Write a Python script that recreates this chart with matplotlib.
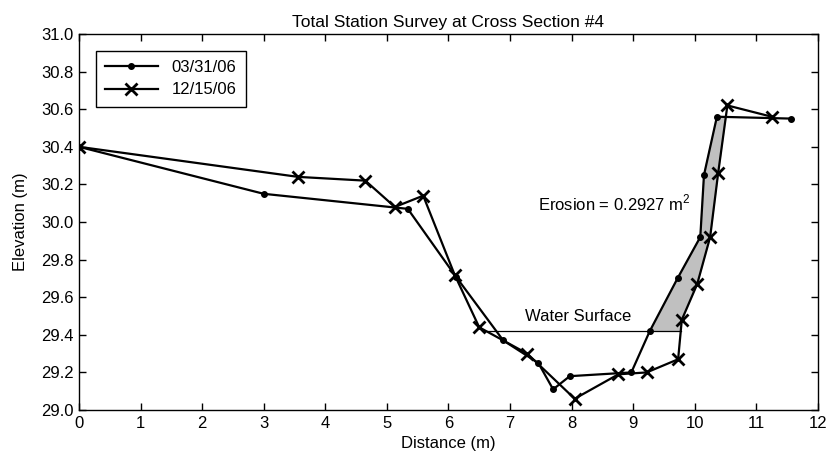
import numpy as np
import matplotlib
matplotlib.use("Agg")
import matplotlib.pyplot as plt

# survey 03/31/06 (dots)
x1 = [0.0, 3.0, 5.34, 6.12, 6.89, 7.46, 7.70, 7.97, 8.97, 9.27, 9.72, 10.09, 10.15, 10.36, 11.57]
y1 = [30.40, 30.15, 30.07, 29.71, 29.37, 29.25, 29.11, 29.18, 29.20, 29.42, 29.70, 29.92, 30.25, 30.56, 30.55]

# survey 12/15/06 (crosses)
x2 = [0.0, 3.56, 4.65, 5.13, 5.59, 6.10, 6.50, 7.28, 8.05, 8.76, 9.22, 9.73, 9.79, 10.04, 10.25, 10.38, 10.53, 11.25]
y2 = [30.40, 30.24, 30.22, 30.08, 30.14, 29.72, 29.44, 29.30, 29.06, 29.19, 29.20, 29.27, 29.48, 29.67, 29.92, 30.26, 30.62, 30.56]

water_level = 29.42
water_x = [6.6, 9.78]
erosion_label = "Erosion = 0.2927 m$^2$"


def cross_x(xa, ya, xb, yb, level):
    return xa + (level - ya) * (xb - xa) / (yb - ya)


plt.rcParams["font.family"] = ["Liberation Sans", "DejaVu Sans"]
plt.rcParams["font.size"] = 12
plt.rcParams["mathtext.fontset"] = "custom"
plt.rcParams["mathtext.rm"] = "Liberation Sans"

fig = plt.figure(figsize=(8.27, 4.57), dpi=100)
ax = fig.add_axes([0.0955, 0.1028, 0.8935, 0.8228])

# erosion polygon: bank of survey 1 from water level up to top, back down survey 2
i1a, i1b = 9, 13          # survey 1 points 9.27 .. 10.36
i2a, i2b = 12, 15         # survey 2 points 9.79 .. 10.38
top = y1[i1b]
xt = cross_x(x2[15], y2[15], x2[16], y2[16], top)
xb = cross_x(x2[11], y2[11], x2[12], y2[12], water_level)
px = x1[i1a:i1b + 1] + [xt] + x2[i2a:i2b + 1][::-1] + [xb]
py = y1[i1a:i1b + 1] + [top] + y2[i2a:i2b + 1][::-1] + [water_level]
ax.fill(px, py, color="#c0c0c0", zorder=1)

ax.plot(water_x, [water_level, water_level], color="black", lw=0.9, zorder=2)

ax.plot(x1, y1, color="black", lw=1.6, marker="o", ms=4, label="03/31/06", zorder=3)
ax.plot(x2, y2, color="black", lw=1.6, marker="x", ms=9, mew=2, label="12/15/06", zorder=3)

ax.text(8.1, 29.455, "Water Surface", ha="center", va="bottom")
ax.text(7.45, 30.10, erosion_label, ha="left", va="center")

ax.set_xlim(0, 12)
ax.set_ylim(29.0, 31.0)
ax.set_xticks(np.arange(0, 13, 1))
ax.set_yticks(np.arange(29.0, 31.01, 0.2))
ax.set_yticklabels([f"{v:.1f}" for v in np.arange(29.0, 31.01, 0.2)])
ax.tick_params(direction="in", top=True, right=True, length=5, width=1, pad=4)
for s in ax.spines.values():
    s.set_linewidth(1.0)

ax.set_xlabel("Distance (m)", labelpad=4)
ax.set_ylabel("Elevation (m)", labelpad=9)
ax.set_title("Total Station Survey at Cross Section #4", fontsize=12.5, pad=5)

leg = ax.legend(loc="upper left", fancybox=False, edgecolor="black", framealpha=1,
                handlelength=3.2, borderaxespad=1.0, borderpad=0.55, labelspacing=0.45)
leg.get_frame().set_linewidth(1.0)

fig.savefig("out.png", dpi=100)
